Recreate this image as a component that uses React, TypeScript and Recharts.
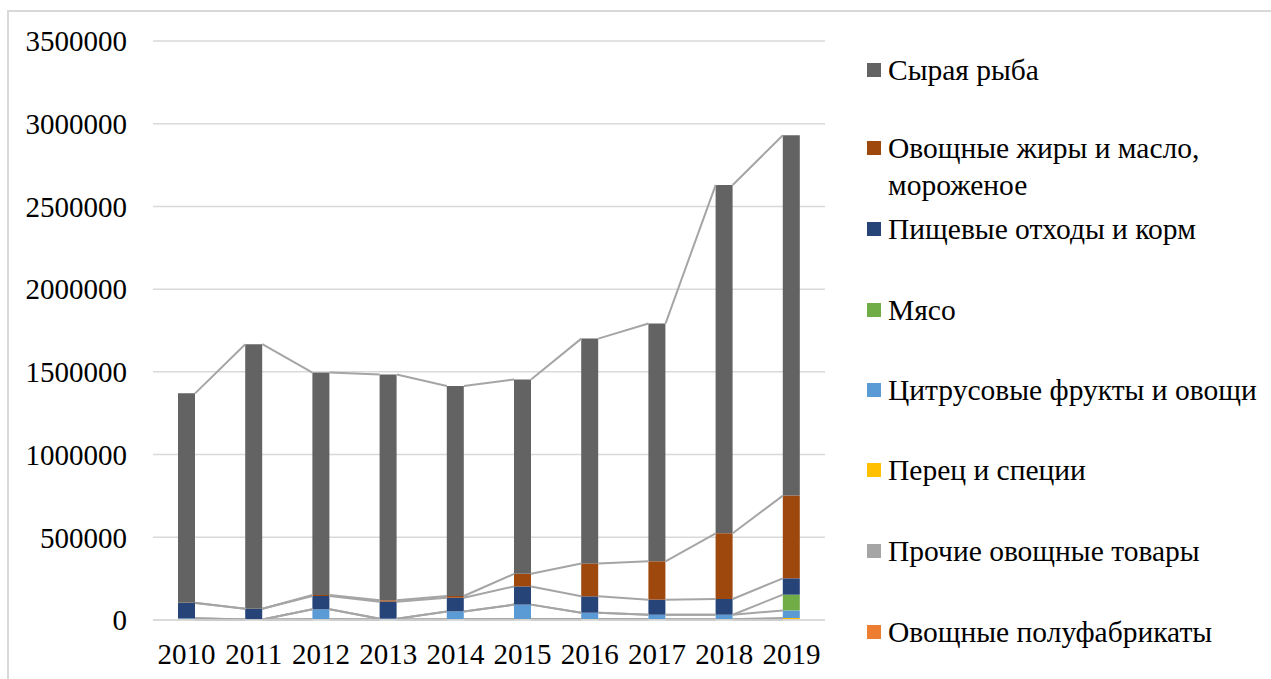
import React from 'react';
import { ComposedChart, Bar, Line, XAxis, YAxis, CartesianGrid, Legend } from 'recharts';

const years = ['2010', '2011', '2012', '2013', '2014', '2015', '2016', '2017', '2018', '2019'];

// Series values, stacked from bottom to top
const semiFinished = [1000, 500, 1000, 500, 1000, 1500, 1500, 1000, 1000, 2000];
const otherVeg = [3000, 1500, 3000, 2000, 2500, 3000, 3000, 2500, 2500, 4000];
const pepper = [1000, 500, 1000, 1000, 1000, 1500, 1500, 1000, 1500, 6000];
const citrus = [5000, 500, 59500, 4500, 47500, 87000, 38000, 27500, 27000, 46000];
const meat = [0, 0, 0, 0, 0, 0, 0, 0, 0, 95000];
const foodWaste = [93000, 65000, 80500, 103000, 83000, 110000, 99000, 91000, 95000, 99000];
const vegFats = [1000, 500, 6000, 8000, 10000, 76000, 199000, 232000, 397000, 500000];
const rawFish = [1266000, 1598500, 1345000, 1365000, 1270000, 1175000, 1359000, 1437000, 2106000, 2178000];

const yTicks = [0, 500000, 1000000, 1500000, 2000000, 2500000, 3000000, 3500000];

const seriesDefs = [
  { key: 'semiFinished', name: 'Овощные полуфабрикаты', color: '#ED7D31', values: semiFinished },
  { key: 'otherVeg', name: 'Прочие овощные товары', color: '#A5A5A5', values: otherVeg },
  { key: 'pepper', name: 'Перец и специи', color: '#FFC000', values: pepper },
  { key: 'citrus', name: 'Цитрусовые фрукты и овощи', color: '#5B9BD5', values: citrus },
  { key: 'meat', name: 'Мясо', color: '#70AD47', values: meat },
  { key: 'foodWaste', name: 'Пищевые отходы и корм', color: '#264478', values: foodWaste },
  { key: 'vegFats', name: 'Овощные жиры и масло, мороженое', color: '#9E480E', values: vegFats },
  { key: 'rawFish', name: 'Сырая рыба', color: '#636363', values: rawFish },
];

const FONT = "'Liberation Serif', 'Times New Roman', serif";
const CHART_W = 1271;
const CHART_H = 679;
const MARGIN = { top: 41, right: 446, bottom: 0, left: 0 };
const Y_AXIS_W = 153;
const BAR_SIZE = 17;
const PLOT_W = CHART_W - MARGIN.left - MARGIN.right - Y_AXIS_W;
const HALF_BAR = BAR_SIZE / 2 / (PLOT_W / years.length);

const chartData = years.map((year, i) => {
  const row: Record<string, number | string> = { x: i, year };
  seriesDefs.forEach((s) => {
    row[s.key] = s.values[i];
  });
  return row;
});

// Excel-style series lines: connect the top of each series from one bar's right edge to the next bar's left edge
const seriesLines = seriesDefs.map((s, si) => {
  const cum = years.map((_, i) => seriesDefs.slice(0, si + 1).reduce((acc, d) => acc + d.values[i], 0));
  const pts: { x: number; v: number | null }[] = [];
  for (let i = 0; i < years.length - 1; i++) {
    pts.push({ x: i + HALF_BAR, v: cum[i] });
    pts.push({ x: i + 1 - HALF_BAR, v: cum[i + 1] });
    pts.push({ x: i + 1, v: null });
  }
  return { key: s.key, pts };
});

const legendItems = [...seriesDefs].reverse();
const legendRows = [70, 148, 229, 310, 390, 470, 551, 632];

const renderLegend = () => (
  <div style={{ position: 'relative', width: CHART_W, height: CHART_H, fontFamily: FONT }}>
    {legendItems.map((item, i) => {
      const parts = item.key === 'vegFats' ? ['Овощные жиры и масло,', 'мороженое'] : [item.name];
      const cy = legendRows[i];
      return (
        <div key={item.key}>
          <div
            style={{
              position: 'absolute',
              left: 867,
              top: cy - 7,
              width: 14,
              height: 14,
              background: item.color,
            }}
          />
          {parts.map((p, pi) => (
            <div
              key={pi}
              style={{
                position: 'absolute',
                left: 888,
                top: cy - 18 + pi * 37,
                height: 36,
                lineHeight: '36px',
                fontSize: 29.5,
                color: '#000',
                whiteSpace: 'nowrap',
              }}
            >
              {p}
            </div>
          ))}
        </div>
      );
    })}
  </div>
);

export default function App() {
  return (
    <div
      style={{
        position: 'absolute',
        left: 0,
        top: 0,
        width: CHART_W,
        height: CHART_H,
        overflow: 'hidden',
        background: '#fff',
      }}
    >
      <div
        style={{
          position: 'absolute',
          left: 7,
          top: 10,
          width: CHART_W,
          height: CHART_H,
          borderTop: '2px solid #D9D9D9',
          borderLeft: '2px solid #D9D9D9',
        }}
      />
      <div style={{ position: 'absolute', left: 0, top: 0 }}>
        <ComposedChart width={CHART_W} height={CHART_H} data={chartData} margin={MARGIN}>
          <CartesianGrid xAxisId="cat" vertical={false} stroke="#D9D9D9" strokeWidth={1.5} />
          <XAxis
            xAxisId="cat"
            type="category"
            dataKey="year"
            interval={0}
            height={59}
            axisLine={{ stroke: '#D9D9D9', strokeWidth: 1.5 }}
            tickLine={false}
            tickMargin={17}
            tick={{ fill: '#000', fontSize: 29, fontFamily: FONT }}
          />
          <XAxis
            xAxisId="num"
            type="number"
            dataKey="x"
            domain={[-0.5, years.length - 0.5]}
            allowDataOverflow
            hide
          />
          <YAxis
            type="number"
            domain={[0, 3500000]}
            ticks={yTicks}
            interval={0}
            width={Y_AXIS_W}
            axisLine={false}
            tickLine={false}
            tickMargin={20}
            tick={{ fill: '#000', fontSize: 29, fontFamily: FONT }}
          />
          {seriesDefs.map((s) => (
            <Bar
              key={s.key}
              xAxisId="cat"
              dataKey={s.key}
              name={s.name}
              stackId="a"
              fill={s.color}
              barSize={BAR_SIZE}
              isAnimationActive={false}
            />
          ))}
          {seriesLines.map((l) => (
            <Line
              key={'line-' + l.key}
              xAxisId="num"
              data={l.pts}
              dataKey="v"
              type="linear"
              stroke="#A5A5A5"
              strokeWidth={2}
              dot={false}
              activeDot={false}
              connectNulls={false}
              legendType="none"
              isAnimationActive={false}
            />
          ))}
          <Legend
            layout="vertical"
            align="center"
            verticalAlign="middle"
            content={renderLegend}
            wrapperStyle={{ position: 'absolute', left: 0, top: 0, width: CHART_W, height: CHART_H }}
          />
        </ComposedChart>
      </div>
    </div>
  );
}
